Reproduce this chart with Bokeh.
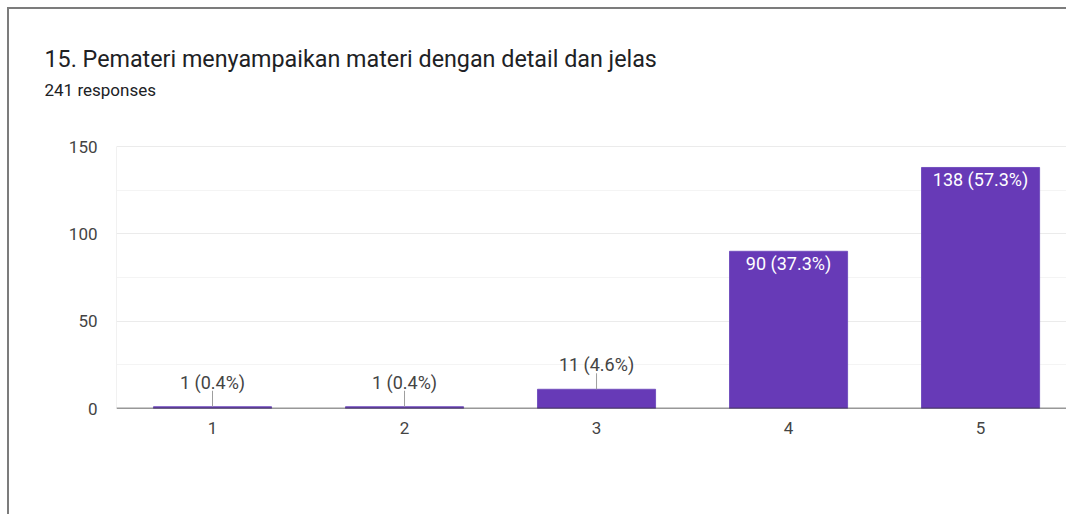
from bokeh.plotting import figure
from bokeh.models import Range1d, FixedTicker, ColumnDataSource, LabelSet, Span, Title
from bokeh.core.properties import value
from bokeh.embed import file_html
from bokeh.resources import INLINE
import math

title_text = "15. Pemateri menyampaikan materi dengan detail dan jelas"
subtitle_text = "241 responses"
categories = ["1", "2", "3", "4", "5"]
counts = [1, 1, 11, 90, 138]
percents = [0.4, 0.4, 4.6, 37.3, 57.3]
y_ticks = [0, 50, 100, 150]
y_minor = [25, 75, 125]

PURPLE = "#673ab7"
FONT = "Roboto"

xs = [i + 1 for i in range(len(categories))]
labels = [f"{c} ({p}%)" for c, p in zip(counts, percents)]
inside = [c >= 40 for c in counts]

src = ColumnDataSource(dict(x=xs, top=counts, label=labels))
src_in = ColumnDataSource(dict(
    x=[x for x, f in zip(xs, inside) if f],
    y=[c for c, f in zip(counts, inside) if f],
    label=[l for l, f in zip(labels, inside) if f]))
src_out = ColumnDataSource(dict(
    x=[x for x, f in zip(xs, inside) if not f],
    y=[c for c, f in zip(counts, inside) if not f],
    label=[l for l, f in zip(labels, inside) if not f]))

x_start = 0.5
p = figure(width=1059, height=507, output_backend="svg", toolbar_location=None,
           x_range=Range1d(x_start, 5.458), y_range=Range1d(0, 175.2),
           min_border_left=107, min_border_right=0, min_border_top=93,
           min_border_bottom=108)
p.styles = {"margin-left": "7px", "margin-top": "7px",
            "border-left": "2px solid #7c7c7c", "border-top": "2px solid #7c7c7c"}
p.outline_line_color = None
p.background_fill_color = "white"
p.border_fill_color = "white"

sub = Title(text=subtitle_text, align="left", offset=-72, text_font=FONT,
            text_font_size="17px", text_font_style="normal", text_color="#202124",
            standoff=6)
ttl = Title(text=title_text, align="left", offset=-72, text_font=FONT,
            text_font_size="23.3px", text_font_style="normal", text_color="#202124",
            standoff=3)
p.add_layout(sub, "above")
p.add_layout(ttl, "above")

# left frame line of the plot area (from 0 up to the top tick)
p.segment(x0=[x_start], y0=[y_ticks[0]], x1=[x_start], y1=[y_ticks[-1]],
          line_color="#e4e4e4", line_width=1, level="underlay")

p.vbar(x="x", top="top", bottom=0, width=0.615, source=src,
       fill_color=PURPLE, line_color="#7452bf", line_width=1)

# leader lines for outside labels
p.ray(x="x", y="y", length=16, length_units="screen", angle=math.pi / 2,
      source=src_out, line_color="#9e9e9e", line_width=1)

p.add_layout(LabelSet(x="x", y="y", text="label", source=src_out, y_offset=18,
                      text_align="center", text_baseline="alphabetic",
                      text_font=value(FONT), text_font_size=value("18px"),
                      text_color="#444444"))
p.add_layout(LabelSet(x="x", y="y", text="label", source=src_in, y_offset=-18.5,
                      text_align="center", text_baseline="alphabetic",
                      text_font=value(FONT), text_font_size=value("18px"),
                      text_color="white"))

# baseline
p.add_layout(Span(location=0, dimension="width", line_color="#333333", line_width=1.6))

p.xaxis.ticker = FixedTicker(ticks=xs)
p.xaxis.major_label_overrides = {x: c for x, c in zip(xs, categories)}
p.yaxis.ticker = FixedTicker(ticks=y_ticks, minor_ticks=y_minor)

for ax in (p.xaxis, p.yaxis):
    ax.axis_line_color = None
    ax.major_tick_line_color = None
    ax.minor_tick_line_color = None
    ax.major_tick_out = 0
    ax.major_tick_in = 0
    ax.minor_tick_out = 0
    ax.minor_tick_in = 0
    ax.major_label_text_font = FONT
    ax.major_label_text_font_size = "17px"
    ax.major_label_text_color = "#444444"
p.xaxis.major_label_standoff = 13
p.yaxis.major_label_standoff = 19

p.xgrid.grid_line_color = None
p.ygrid.grid_line_color = "#ebebeb"
p.ygrid.minor_grid_line_color = "#f4f4f4"

open("out.html", "w").write(file_html(p, INLINE))
